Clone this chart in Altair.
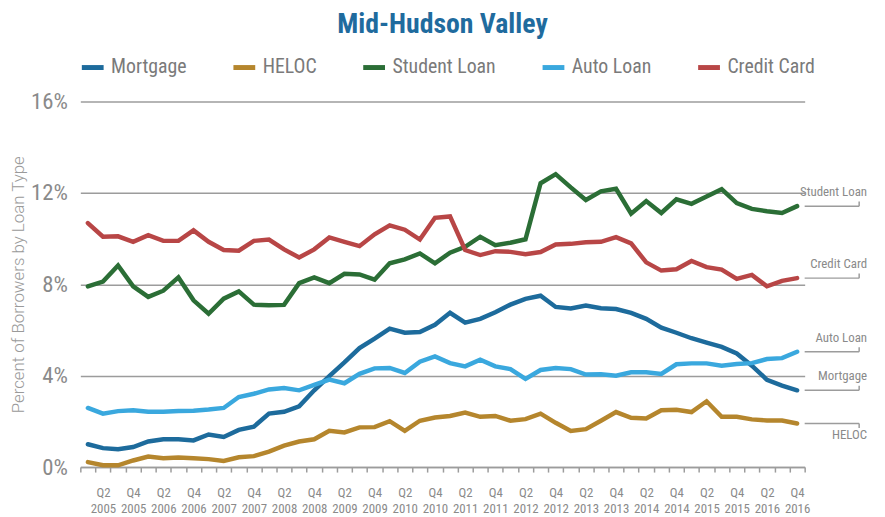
import altair as alt
import pandas as pd

years = list(range(2005, 2017))
quarters = [f"Q{q} {y}" for y in years for q in (1, 2, 3, 4)]

series_names = ["Mortgage", "HELOC", "Student Loan", "Auto Loan", "Credit Card"]
series_colors = ["#1d6b9c", "#b5862d", "#2b6e36", "#3aa8de", "#b84646"]

mortgage = [1.00, 0.83, 0.78, 0.88, 1.12, 1.22, 1.22, 1.17, 1.43, 1.32, 1.63, 1.77,
            2.34, 2.42, 2.66, 3.36, 3.98, 4.58, 5.21, 5.62, 6.06, 5.88, 5.91, 6.23,
            6.75, 6.32, 6.49, 6.78, 7.11, 7.36, 7.50, 7.01, 6.94, 7.07, 6.95, 6.92,
            6.75, 6.49, 6.10, 5.88, 5.64, 5.45, 5.26, 4.97, 4.44, 3.82, 3.57, 3.36]
heloc = [0.22, 0.08, 0.08, 0.29, 0.46, 0.39, 0.42, 0.39, 0.35, 0.27, 0.43, 0.48,
         0.68, 0.94, 1.12, 1.22, 1.59, 1.52, 1.74, 1.75, 2.01, 1.59, 2.03, 2.17,
         2.24, 2.39, 2.20, 2.24, 2.03, 2.10, 2.34, 1.94, 1.58, 1.66, 2.03, 2.41,
         2.16, 2.13, 2.49, 2.51, 2.41, 2.88, 2.20, 2.20, 2.09, 2.04, 2.04, 1.91]
student_loan = [7.91, 8.12, 8.82, 7.91, 7.45, 7.72, 8.30, 7.30, 6.71, 7.37, 7.69, 7.11,
                7.08, 7.10, 8.05, 8.30, 8.05, 8.46, 8.43, 8.20, 8.92, 9.09, 9.35, 8.92,
                9.38, 9.64, 10.08, 9.71, 9.82, 9.97, 12.42, 12.82, 12.24, 11.69, 12.07, 12.18,
                11.09, 11.64, 11.12, 11.72, 11.52, 11.84, 12.16, 11.55, 11.30, 11.20, 11.12, 11.42]
auto_loan = [2.59, 2.34, 2.45, 2.49, 2.42, 2.42, 2.46, 2.47, 2.52, 2.59, 3.07, 3.21,
             3.40, 3.46, 3.36, 3.60, 3.83, 3.67, 4.08, 4.32, 4.34, 4.12, 4.61, 4.84,
             4.55, 4.41, 4.70, 4.41, 4.29, 3.86, 4.25, 4.34, 4.29, 4.05, 4.06, 4.00,
             4.15, 4.15, 4.08, 4.50, 4.54, 4.54, 4.44, 4.51, 4.55, 4.73, 4.77, 5.05]
credit_card = [10.68, 10.08, 10.10, 9.86, 10.15, 9.90, 9.90, 10.36, 9.86, 9.50, 9.47, 9.90,
               9.96, 9.53, 9.17, 9.53, 10.05, 9.86, 9.67, 10.19, 10.58, 10.39, 9.96, 10.91,
               10.97, 9.50, 9.28, 9.45, 9.42, 9.32, 9.41, 9.74, 9.77, 9.84, 9.86, 10.06,
               9.79, 8.96, 8.60, 8.66, 9.02, 8.75, 8.64, 8.24, 8.41, 7.91, 8.15, 8.27]

series_values = {
    "Mortgage": mortgage,
    "HELOC": heloc,
    "Student Loan": student_loan,
    "Auto Loan": auto_loan,
    "Credit Card": credit_card,
}
# +1: end label above the leader line, -1: below
label_side = [1, -1, 1, 1, 1]

y_ticks = [0, 4, 8, 12, 16]

rows = []
for s in series_names:
    for q, v in zip(quarters, series_values[s]):
        rows.append({"quarter": q, "series": s, "value": v})
df = pd.DataFrame(rows)

end_df = pd.DataFrame({
    "series": series_names,
    "value": [series_values[s][-1] for s in series_names],
    "side": label_side,
})

FONT = "Roboto Condensed, Liberation Sans Narrow, Roboto"
GRAY = "#8a8a8a"
GRID = "#9c9c9c"

y_scale = alt.Scale(domain=[0, 16], nice=False, zero=True)

x_enc = alt.X(
    "quarter:N",
    sort=quarters,
    bandPosition=0.5,
    scale=alt.Scale(type="band", domain=quarters, paddingInner=0, paddingOuter=0),
    axis=alt.Axis(
        title=None,
        labelAngle=0,
        labelExpr="isString(datum.value) && (indexof(datum.value, 'Q2') >= 0 || indexof(datum.value, 'Q4') >= 0) ? split(datum.value, ' ') : ''",
        labelOverlap=False,
        labelBound=False,
        labelFlush=False,
        labelFontSize=13,
        labelColor=GRAY,
        labelFont=FONT,
        labelPadding=15,
        labelLineHeight=16,
        tickBand="extent",
        ticks=True,
        tickSize=5,
        tickWidth=1.5,
        tickColor=GRID,
        domain=True,
        domainColor=GRID,
        domainWidth=1.5,
        grid=False,
    ),
)

y_enc = alt.Y(
    "value:Q",
    scale=y_scale,
    axis=alt.Axis(
        title="Percent of Borrowers by Loan Type",
        values=y_ticks,
        labelExpr="datum.value + '%'",
        labelFontSize=23,
        labelColor=GRAY,
        labelFont=FONT,
        labelPadding=13,
        ticks=False,
        domain=False,
        grid=True,
        gridColor=GRID,
        gridWidth=1.5,
        titleFont="Roboto",
        titleFontWeight=300,
        titleFontSize=17,
        titleColor="#9a9a9a",
        titleAngle=270,
        titleX=-62,
        titleY=184.5,
        titleAlign="center",
        titleBaseline="middle",
    ),
)

lines = alt.Chart(df).mark_line(strokeWidth=4.5, strokeCap="round").encode(
    x=x_enc,
    y=y_enc,
    color=alt.Color(
        "series:N",
        scale=alt.Scale(domain=series_names, range=series_colors),
        legend=alt.Legend(
            title=None,
            orient="none",
            legendX=-1,
            legendY=-48,
            direction="horizontal",
            symbolType="stroke",
            symbolStrokeWidth=5,
            symbolSize=484,
            labelFontSize=20,
            labelFont=FONT,
            labelColor="#7a7a7a",
            labelOffset=5,
            columnPadding=36,
            padding=0,
        ),
    ),
)

leader_h = alt.Chart(end_df).mark_rule(color=GRID, strokeWidth=1.5).encode(
    y=alt.Y("value:Q", scale=y_scale),
    x=alt.value(731),
    x2=alt.value(786),
)

leader_v = alt.Chart(end_df).transform_calculate(
    tick_end="datum.value + datum.side * 0.2"
).mark_rule(color=GRID, strokeWidth=1.5).encode(
    y=alt.Y("value:Q", scale=y_scale),
    y2="tick_end:Q",
    x=alt.value(786),
)

labels_above = alt.Chart(end_df).transform_filter("datum.side > 0").mark_text(
    align="right", baseline="middle", dy=-14, fontSize=13, font=FONT, color=GRAY
).encode(
    y=alt.Y("value:Q", scale=y_scale),
    x=alt.value(794),
    text="series:N",
)

labels_below = alt.Chart(end_df).transform_filter("datum.side < 0").mark_text(
    align="right", baseline="middle", dy=12, fontSize=13, font=FONT, color=GRAY
).encode(
    y=alt.Y("value:Q", scale=y_scale),
    x=alt.value(794),
    text="series:N",
)

chart = alt.layer(lines, leader_h, leader_v, labels_above, labels_below).properties(
    width=731,
    height=369,
    title=alt.Title(
        "Mid-Hudson Valley",
        fontSize=28,
        fontWeight="bold",
        font=FONT,
        color="#1f6b9e",
        anchor="middle",
        offset=15,
    ),
    autosize=alt.AutoSizeParams(type="none"),
    padding={"left": 73, "top": 92, "right": 73, "bottom": 48},
).configure_view(stroke=None)

chart.save("out.html", embed_options={"renderer": "svg", "actions": False})
